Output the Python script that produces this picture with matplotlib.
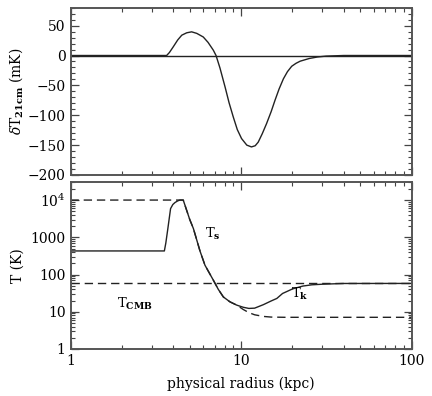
import matplotlib
matplotlib.use("Agg")
import matplotlib.pyplot as plt
from matplotlib.ticker import FixedLocator, MultipleLocator, LogLocator, NullFormatter, FixedFormatter

plt.rcParams['font.family'] = ['DejaVu Serif']
plt.rcParams['mathtext.fontset'] = 'dejavuserif'

# top panel: 21cm brightness temperature
r_dT = [1.0, 3.5, 3.66, 3.8, 4.0, 4.25, 4.49, 4.8, 5.13, 5.5, 6.0, 6.4, 6.87, 7.13, 7.52, 8.06, 8.5, 9.0,
        9.5, 10.06, 10.8, 11.5, 12.1, 12.6, 13.3, 14.1, 15.0, 15.8, 16.7, 17.7, 18.7, 19.8, 21.0, 22.2, 25.1,
        28.0, 31.5, 40.0, 100.0]
dT = [0, 0, 0, 5, 14.4, 26, 34, 38, 39.6, 37, 31, 22, 9, 0, -21, -53, -79, -103,
      -124, -139, -150, -153, -151, -145, -131, -114, -94, -75, -56, -39, -27, -18, -13, -9.5, -5,
      -2.5, -1, 0, 0]

# bottom panel: temperatures
r_Ts = [1.0, 3.55, 3.62, 3.72, 3.86, 3.98, 4.10, 4.25, 4.38, 4.58, 5.0, 5.25, 5.74, 6.14, 6.87, 7.35, 7.87,
        8.6, 9.42, 10.3, 11.1, 12.0, 13.5, 15.0, 16.2, 17.5, 20.0, 23.0, 26.0, 30.0, 40.0, 100.0]
Ts = [430, 430, 700, 1700, 5900, 7600, 8600, 9500, 10000, 10000, 3000, 1730, 430, 178, 71, 40, 25,
      18.5, 15.1, 13.2, 12.3, 12.5, 15.5, 19.5, 22.8, 31, 41, 49, 53, 55, 57.5, 57.7]
r_Tk = [1.0, 4.58, 5.0, 5.25, 5.74, 6.14, 6.87, 7.35, 7.87, 8.6, 9.42,
        10.3, 11.1, 12.0, 13.5, 15.0, 18.0, 25.0, 100.0]
Tk = [10000, 10000, 3000, 1730, 430, 178, 71, 40, 25, 18.5, 15.1,
      11.5, 9.5, 8.3, 7.5, 7.2, 7.1, 7.1, 7.1]
T_cmb = 57.7

fig = plt.figure(figsize=(4.32, 3.96), dpi=100)
L, R = 70.5 / 432, 411.7 / 432
ax1 = fig.add_axes([L, 1 - 175 / 396, R - L, (175 - 7.7) / 396])
ax2 = fig.add_axes([L, 1 - 349 / 396, R - L, (349 - 182.3) / 396])

lc = '#222222'
ax1.plot(r_dT, dT, color=lc, lw=1.0)
ax1.axhline(0, color=lc, lw=1.0)
ax1.set_xscale('log')
ax1.set_xlim(1, 100)
ax1.set_ylim(-200, 80)
ax1.yaxis.set_major_locator(FixedLocator([-200, -150, -100, -50, 0, 50]))
ax1.yaxis.set_minor_locator(MultipleLocator(10))
ax1.set_yticklabels(['\u2212200', '\u2212150', '\u2212100', '\u221250', '0', '50'])
ax1.xaxis.set_major_locator(FixedLocator([1, 10, 100]))
ax1.xaxis.set_minor_locator(LogLocator(base=10, subs=range(2, 10)))
ax1.xaxis.set_major_formatter(NullFormatter())
ax1.xaxis.set_minor_formatter(NullFormatter())
ax1.set_ylabel(r'$\delta$T$_{\mathbf{21cm}}$ (mK)', fontsize=10, labelpad=2)

ax2.plot(r_Ts, Ts, color=lc, lw=1.0)
ax2.plot(r_Tk, Tk, color=lc, lw=1.0, ls=(0, (6, 3.5)))
ax2.axhline(T_cmb, color=lc, lw=1.0, ls=(0, (6, 3.5)))
ax2.set_xscale('log')
ax2.set_yscale('log')
ax2.set_xlim(1, 100)
ax2.set_ylim(1, 3e4)
ax2.yaxis.set_major_locator(FixedLocator([1, 10, 100, 1000, 10000]))
ax2.yaxis.set_major_formatter(FixedFormatter(['1', '10', '100', '1000', r'10$^{\mathregular{4}}$']))
ax2.yaxis.set_minor_locator(LogLocator(base=10, subs=range(2, 10)))
ax2.yaxis.set_minor_formatter(NullFormatter())
ax2.xaxis.set_major_locator(FixedLocator([1, 10, 100]))
ax2.xaxis.set_major_formatter(FixedFormatter(['1', '10', '100']))
ax2.xaxis.set_minor_locator(LogLocator(base=10, subs=range(2, 10)))
ax2.xaxis.set_minor_formatter(NullFormatter())
ax2.set_ylabel('T (K)', fontsize=10, labelpad=4)
ax2.set_xlabel('physical radius (kpc)', fontsize=10, labelpad=6)

ax2.text(2.39, 16.1, r'T$_{\mathbf{CMB}}$', fontsize=9.5, ha='center', va='center')
ax2.text(6.84, 1210, r'T$_{\mathbf{s}}$', fontsize=9.5, ha='center', va='center')
ax2.text(22.1, 29.8, r'T$_{\mathbf{k}}$', fontsize=9.5, ha='center', va='center')

for ax in (ax1, ax2):
    ax.tick_params(which='both', direction='in', top=True, right=True, labelsize=10, color='#444444')
    ax.tick_params(which='major', length=5.5, width=0.9)
    ax.tick_params(which='minor', length=3, width=0.8)
    for s in ax.spines.values():
        s.set_linewidth(1.4)
        s.set_color('#555555')

fig.savefig('out.png', dpi=100)
